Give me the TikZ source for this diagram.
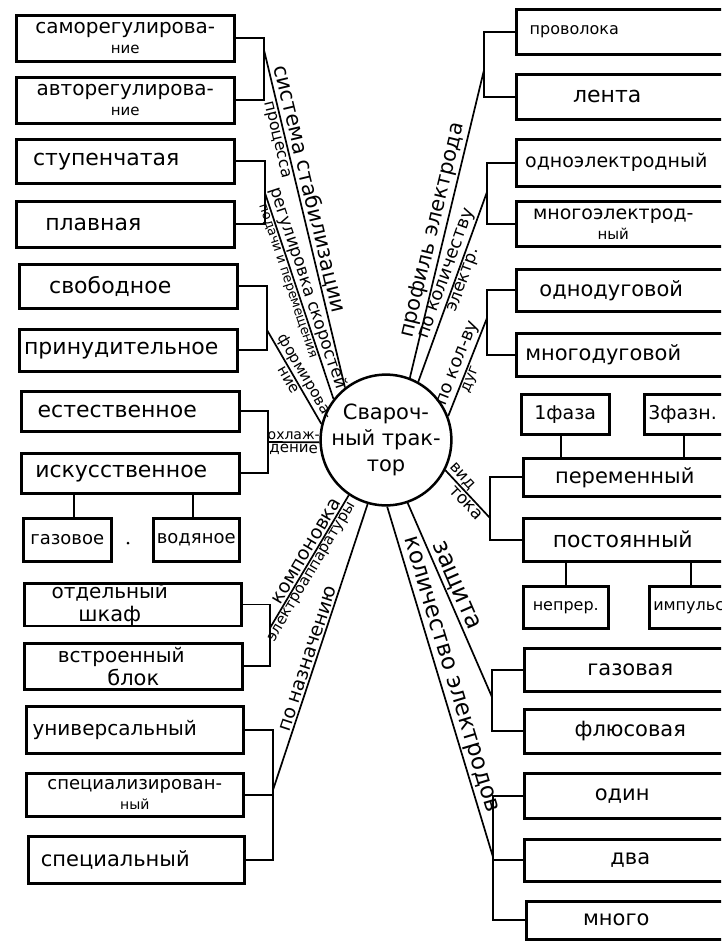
\documentclass[tikz,border=0pt]{standalone}
\usepackage{fontspec}
\setmainfont{DejaVu Sans}
\newcommand\fz[2]{\fontsize{#1}{#2}\selectfont}
\newcommand\sh[1]{\hspace*{#1pt}}
\begin{document}
\begin{tikzpicture}[x=1pt,y=-1pt,
  box/.style={draw, line width=2.5pt, inner sep=0pt, anchor=north west, align=center, font=\fz{21}{23}},
  lbox/.style={box, align=left, inner xsep=4pt},
  conn/.style={line width=1.7pt},
  lab/.style={sloped, inner sep=1.5pt, font=\fz{18}{20}},
]
\clip (0,0) rectangle (721,943);
\fill[white] (0,0) rectangle (721,943);

% ---------- centre ----------
\node[draw, circle, line width=2.5pt, minimum size=122pt, inner sep=0pt, align=center, font=\fz{21}{26}] (C) at (386,440) {Свароч-\\ный трак-\\тор};

% ---------- left boxes ----------
\node[box, minimum width=218, minimum height=46] (L1) at (15,14) {\fz{20}{20}саморегулирова-\\[-3pt]\fz{15}{15}ние};
\node[box, minimum width=218, minimum height=46] (L2) at (15,76) {\fz{20}{20}авторегулирова-\\[-3pt]\fz{15}{15}ние};
\node[box, minimum width=218, minimum height=44, font=\fz{22}{24}] (L3) at (15,138) {ступенчатая\sh{38}};
\node[box, minimum width=218, minimum height=46, font=\fz{22}{24}] (L4) at (15,200) {плавная\sh{64}};
\node[box, minimum width=218, minimum height=44, font=\fz{22}{24}] (L5) at (18,263) {свободное\sh{36}};
\node[box, minimum width=218, minimum height=42, font=\fz{22}{24}] (L6) at (18,328) {принудительное\sh{14}};
\node[box, minimum width=218, minimum height=40, font=\fz{22}{24}] (L7) at (20,390) {естественное\sh{26}};
\node[box, minimum width=218, minimum height=40, font=\fz{22}{24}] (L8) at (20,452) {искусственное\sh{18}};
\node[box, minimum width=88, minimum height=43, font=\fz{18}{20}] (L9a) at (22,517) {газовое};
\node[box, minimum width=86, minimum height=43, font=\fz{18}{20}] (L9b) at (152,517) {водяное};
\node[box, minimum width=217, minimum height=41] (L10) at (23,582) {\fz{20}{19}отдельный\sh{46}\\шкаф\sh{46}};
\node[box, minimum width=218, minimum height=46] (L11) at (23,642) {\fz{20}{21}встроенный\sh{24}\\блок};
\node[box, minimum width=217, minimum height=47, font=\fz{20}{22}] (L12) at (25,705) {универсальный\sh{40}};
\node[box, minimum width=217, minimum height=43] (L13) at (25,772) {\fz{18}{18}специализирован-\\[-3pt]\fz{14}{14}ный};
\node[box, minimum width=216, minimum height=47] (L14) at (27,835) {специальный\sh{42}};

% ---------- right boxes ----------
\node[box, minimum width=220, minimum height=45, font=\fz{16}{18}] (R1) at (515,8) {проволока\sh{104}};
\node[box, minimum width=220, minimum height=45, font=\fz{22}{24}] (R2) at (515,73) {лента\sh{38}};
\node[box, minimum width=220, minimum height=47, font=\fz{19}{21}] (R3) at (515,138) {одноэлектродный\sh{20}};
\node[box, minimum width=220, minimum height=45] (R4) at (515,200) {\fz{19}{19}многоэлектрод-\sh{26}\\[-3pt]\fz{15}{15}ный\sh{26}};
\node[box, minimum width=220, minimum height=42] (R5) at (515,268) {однодуговой\sh{30}};
\node[box, minimum width=220, minimum height=43] (R6) at (515,332) {многодуговой\sh{46}};
\node[box, minimum width=88, minimum height=40, font=\fz{19}{21}] (R7a) at (520,393) {1фаза};
\node[lbox, text width=84, minimum height=40, font=\fz{19}{21}] (R7b) at (643,393) {3фазн.};
\node[box, minimum width=213, minimum height=38] (R8) at (522,457) {переменный\sh{10}};
\node[box, minimum width=213, minimum height=43, font=\fz{22}{24}] (R9) at (522,517) {постоянный\sh{14}};
\node[box, minimum width=85, minimum height=42, font=\fz{16}{18}] (R10a) at (522,585) {непрер.};
\node[lbox, text width=84, minimum height=42, font=\fz{16}{18}] (R10b) at (648,585) {импульс};
\node[box, minimum width=212, minimum height=43] (R11) at (523,647) {газовая};
\node[box, minimum width=212, minimum height=44] (R12) at (523,708) {флюсовая};
\node[box, minimum width=212, minimum height=45] (R13) at (523,772) {один\sh{16}};
\node[box, minimum width=212, minimum height=42] (R14) at (523,838) {два};
\node[box, minimum width=210, minimum height=38] (R15) at (525,900) {много\sh{30}};

% ---------- junctions ----------
\coordinate (j1) at (264,50);
\coordinate (j2) at (265,193);
\coordinate (j3) at (267,330);
\coordinate (j4) at (268,442);
\coordinate (j5) at (270,628);
\coordinate (j6) at (273,790);
\coordinate (k1) at (484,70);
\coordinate (k2) at (487,192);
\coordinate (k3) at (487,318);
\coordinate (k4) at (490,518);
\coordinate (k5) at (492,697);
\coordinate (k6) at (493,857);

% ---------- brackets ----------
\draw[conn] (L1.east) -| (j1) |- (L2.east);
\draw[conn] (L3.east) -| (j2) |- (L4.east);
\draw[conn] (L5.east) -| (j3) |- (L6.east);
\draw[conn] (L7.east) -| (j4) |- (L8.east);
\draw[conn] (L10.east) -| (j5) |- (L11.east);
\draw[conn] (L12.east) -| (j6) |- (L14.east);
\draw[conn] (L13.east) -- (L13.east -| j6);
\draw[conn] ([xshift=7pt]L9a.north) -- ([xshift=7pt]L9a.north |- L8.south);
\draw[conn] ([xshift=-3pt]L9b.north) -- ([xshift=-3pt]L9b.north |- L8.south);
\fill (128,543) circle (1.5pt);

\draw[conn] (R1.west) -| (k1) |- (R2.west);
\draw[conn] (R3.west) -| (k2) |- (R4.west);
\draw[conn] (R5.west) -| (k3) |- (R6.west);
\draw[conn] (R8.west) -| (k4) |- (R9.west);
\draw[conn] (R11.west) -| (k5) |- (R12.west);
\draw[conn] (R13.west) -| (k6) |- (R15.west);
\draw[conn] (R14.west) -- (R14.west -| k6);
\draw[conn] ([xshift=-4pt]R7a.south) -- ([xshift=-4pt]R7a.south |- R8.north);
\draw[conn] ([xshift=-6pt]R7b.south) -- ([xshift=-6pt]R7b.south |- R8.north);
\draw[conn] (R10a.south |- R9.south) -- (R10a.north);
\draw[conn] ([xshift=-4pt]R10b.north) -- ([xshift=-4pt]R10b.north |- R9.south);

% ---------- spokes with labels ----------
\draw[conn] (C.128) -- node[lab, above, pos=0.58, font=\fz{21}{23}] {система стабилизации}
                       node[lab, below, pos=0.74, font=\fz{16}{18}] {процесса} (j1);
\draw[conn] (C.142) -- node[lab, above, pos=0.52, font=\fz{17}{19}] {регулировка скоростей}
                       node[lab, below, pos=0.58, font=\fz{13}{15}] {подачи и перемещения} (j2);
\draw[conn] (C.166) -- node[lab, above, pos=0.45, font=\fz{15}{17}] {формирова-}
                       node[lab, below, pos=0.5, font=\fz{15}{17}] {ние} (j3);
\draw[conn] (C.182) -- node[lab, above, pos=0.5, font=\fz{14}{16}] {охлаж-}
                       node[lab, below, pos=0.5, font=\fz{15}{17}] {дение} (j4);
\draw[conn] (C.236) -- node[lab, above, pos=0.45, font=\fz{19}{21}] {компоновка}
                       node[lab, below, pos=0.55, font=\fz{15}{17}] {электроаппаратуры} (j5);
\draw[conn] (C.254) -- node[lab, above, pos=0.55, font=\fz{19}{21}] {по назначению} (j6);

\draw[conn] (C.69) -- node[lab, above, pos=0.47, font=\fz{21}{23}] {профиль электрода} (k1);
\draw[conn] (C.61) -- node[lab, above, pos=0.55, font=\fz{18}{20}] {по количеству}
                      node[lab, below, pos=0.55, font=\fz{17}{19}] {электр.} (k2);
\draw[conn] (C.21) -- node[lab, above, pos=0.5, font=\fz{18}{20}] {по кол-ву}
                      node[lab, below, pos=0.4, font=\fz{15}{17}] {дуг} (k3);
\draw[conn] (C.333) -- node[lab, above, pos=0.25, font=\fz{16}{18}] {вид}
                       node[lab, below, pos=0.58, font=\fz{17}{19}] {тока} (k4);
\draw[conn] (C.289) -- node[lab, above, pos=0.45, font=\fz{24}{26}] {защита} (k5);
\draw[conn] (C.271) -- node[lab, above, pos=0.49, font=\fz{23}{25}] {количество электродов} (k6);
\end{tikzpicture}
\end{document}
